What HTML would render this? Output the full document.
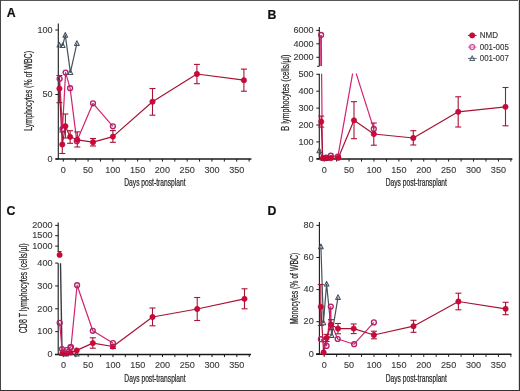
<!DOCTYPE html>
<html><head><meta charset="utf-8"><style>
html,body{margin:0;padding:0;background:#fff;}
#fig{position:relative;width:520px;height:391px;overflow:hidden;background:#fff;}
#fig svg{position:absolute;left:0;top:0;filter:blur(0.3px);}
text{font-family:"Liberation Sans",sans-serif;}
</style></head><body>
<div id="fig">
<svg width="520" height="391" viewBox="0 0 520 391">
<rect x="0" y="0" width="520" height="391" fill="#fff"/>
<text x="6.7" y="17.1" font-size="12.3" font-weight="bold" fill="#111" stroke="#111" stroke-width="0.2">A</text>
<line x1="58.30" y1="23.50" x2="58.30" y2="159.00" stroke="#1a1a1a" stroke-width="1.1"/>
<line x1="55.50" y1="159.00" x2="251.40" y2="159.00" stroke="#1a1a1a" stroke-width="1.5"/>
<line x1="63.30" y1="159.00" x2="63.30" y2="161.60" stroke="#1a1a1a" stroke-width="1.0"/>
<text x="63.30" y="172.80" font-size="8.5" text-anchor="middle" fill="#3a3a3a" stroke="#3a3a3a" stroke-width="0.12" textLength="5.05" lengthAdjust="spacingAndGlyphs">0</text>
<line x1="75.69" y1="159.00" x2="75.69" y2="161.60" stroke="#1a1a1a" stroke-width="1.0"/>
<line x1="88.07" y1="159.00" x2="88.07" y2="161.60" stroke="#1a1a1a" stroke-width="1.0"/>
<text x="88.07" y="172.80" font-size="8.5" text-anchor="middle" fill="#3a3a3a" stroke="#3a3a3a" stroke-width="0.12" textLength="10.10" lengthAdjust="spacingAndGlyphs">50</text>
<line x1="100.46" y1="159.00" x2="100.46" y2="161.60" stroke="#1a1a1a" stroke-width="1.0"/>
<line x1="112.85" y1="159.00" x2="112.85" y2="161.60" stroke="#1a1a1a" stroke-width="1.0"/>
<text x="112.85" y="172.80" font-size="8.5" text-anchor="middle" fill="#3a3a3a" stroke="#3a3a3a" stroke-width="0.12" textLength="15.15" lengthAdjust="spacingAndGlyphs">100</text>
<line x1="125.24" y1="159.00" x2="125.24" y2="161.60" stroke="#1a1a1a" stroke-width="1.0"/>
<line x1="137.62" y1="159.00" x2="137.62" y2="161.60" stroke="#1a1a1a" stroke-width="1.0"/>
<text x="137.62" y="172.80" font-size="8.5" text-anchor="middle" fill="#3a3a3a" stroke="#3a3a3a" stroke-width="0.12" textLength="15.15" lengthAdjust="spacingAndGlyphs">150</text>
<line x1="150.01" y1="159.00" x2="150.01" y2="161.60" stroke="#1a1a1a" stroke-width="1.0"/>
<line x1="162.40" y1="159.00" x2="162.40" y2="161.60" stroke="#1a1a1a" stroke-width="1.0"/>
<text x="162.40" y="172.80" font-size="8.5" text-anchor="middle" fill="#3a3a3a" stroke="#3a3a3a" stroke-width="0.12" textLength="15.15" lengthAdjust="spacingAndGlyphs">200</text>
<line x1="174.79" y1="159.00" x2="174.79" y2="161.60" stroke="#1a1a1a" stroke-width="1.0"/>
<line x1="187.18" y1="159.00" x2="187.18" y2="161.60" stroke="#1a1a1a" stroke-width="1.0"/>
<text x="187.18" y="172.80" font-size="8.5" text-anchor="middle" fill="#3a3a3a" stroke="#3a3a3a" stroke-width="0.12" textLength="15.15" lengthAdjust="spacingAndGlyphs">250</text>
<line x1="199.56" y1="159.00" x2="199.56" y2="161.60" stroke="#1a1a1a" stroke-width="1.0"/>
<line x1="211.95" y1="159.00" x2="211.95" y2="161.60" stroke="#1a1a1a" stroke-width="1.0"/>
<text x="211.95" y="172.80" font-size="8.5" text-anchor="middle" fill="#3a3a3a" stroke="#3a3a3a" stroke-width="0.12" textLength="15.15" lengthAdjust="spacingAndGlyphs">300</text>
<line x1="224.34" y1="159.00" x2="224.34" y2="161.60" stroke="#1a1a1a" stroke-width="1.0"/>
<line x1="236.73" y1="159.00" x2="236.73" y2="161.60" stroke="#1a1a1a" stroke-width="1.0"/>
<text x="236.73" y="172.80" font-size="8.5" text-anchor="middle" fill="#3a3a3a" stroke="#3a3a3a" stroke-width="0.12" textLength="15.15" lengthAdjust="spacingAndGlyphs">350</text>
<line x1="249.11" y1="159.00" x2="249.11" y2="161.60" stroke="#1a1a1a" stroke-width="1.0"/>
<line x1="55.30" y1="159.00" x2="58.30" y2="159.00" stroke="#1a1a1a" stroke-width="1.0"/>
<text x="52.60" y="161.75" font-size="8.5" text-anchor="end" fill="#3a3a3a" stroke="#3a3a3a" stroke-width="0.12" textLength="5.05" lengthAdjust="spacingAndGlyphs">0</text>
<line x1="55.30" y1="94.50" x2="58.30" y2="94.50" stroke="#1a1a1a" stroke-width="1.0"/>
<text x="52.60" y="97.25" font-size="8.5" text-anchor="end" fill="#3a3a3a" stroke="#3a3a3a" stroke-width="0.12" textLength="10.10" lengthAdjust="spacingAndGlyphs">50</text>
<line x1="55.30" y1="30.00" x2="58.30" y2="30.00" stroke="#1a1a1a" stroke-width="1.0"/>
<text x="52.60" y="32.75" font-size="8.5" text-anchor="end" fill="#3a3a3a" stroke="#3a3a3a" stroke-width="0.12" textLength="15.15" lengthAdjust="spacingAndGlyphs">100</text>
<text transform="translate(32.40,90.90) rotate(-90)" x="0" y="0" font-size="10.0" text-anchor="middle" fill="#262626" stroke="#262626" stroke-width="0.22" textLength="79.8" lengthAdjust="spacingAndGlyphs">Lymphocytes (% of WBC)</text>
<text x="154.90" y="185.90" font-size="10.0" text-anchor="middle" fill="#262626" stroke="#262626" stroke-width="0.22" textLength="61.3" lengthAdjust="spacingAndGlyphs">Days post-transplant</text>
<polyline points="59.40,45.00 62.70,45.50 65.30,35.20 70.40,72.40 76.90,43.40" fill="none" stroke="#46515c" stroke-width="1.2" stroke-linejoin="round"/>
<polyline points="59.60,78.80 62.50,128.90 65.60,72.60 70.10,88.20 76.80,141.20 93.00,103.30 112.90,126.30" fill="none" stroke="#d2226e" stroke-width="1.2" stroke-linejoin="round"/>
<polyline points="59.40,88.60 62.30,144.50 65.40,126.20 70.10,136.80 77.30,139.80 93.00,142.20 112.90,136.60 152.50,101.70 196.90,74.00 243.90,80.20" fill="none" stroke="#a61436" stroke-width="1.2" stroke-linejoin="round"/>
<line x1="59.40" y1="75.50" x2="59.40" y2="102.70" stroke="#a61436" stroke-width="1.1"/>
<line x1="56.40" y1="75.50" x2="62.40" y2="75.50" stroke="#a61436" stroke-width="1.1"/>
<line x1="56.40" y1="102.70" x2="62.40" y2="102.70" stroke="#a61436" stroke-width="1.1"/>
<line x1="62.30" y1="132.00" x2="62.30" y2="153.50" stroke="#a61436" stroke-width="1.1"/>
<line x1="59.30" y1="132.00" x2="65.30" y2="132.00" stroke="#a61436" stroke-width="1.1"/>
<line x1="59.30" y1="153.50" x2="65.30" y2="153.50" stroke="#a61436" stroke-width="1.1"/>
<line x1="65.40" y1="114.00" x2="65.40" y2="138.00" stroke="#a61436" stroke-width="1.1"/>
<line x1="62.40" y1="114.00" x2="68.40" y2="114.00" stroke="#a61436" stroke-width="1.1"/>
<line x1="62.40" y1="138.00" x2="68.40" y2="138.00" stroke="#a61436" stroke-width="1.1"/>
<line x1="70.10" y1="130.70" x2="70.10" y2="143.30" stroke="#a61436" stroke-width="1.1"/>
<line x1="67.10" y1="130.70" x2="73.10" y2="130.70" stroke="#a61436" stroke-width="1.1"/>
<line x1="67.10" y1="143.30" x2="73.10" y2="143.30" stroke="#a61436" stroke-width="1.1"/>
<line x1="77.30" y1="131.90" x2="77.30" y2="147.00" stroke="#a61436" stroke-width="1.1"/>
<line x1="74.30" y1="131.90" x2="80.30" y2="131.90" stroke="#a61436" stroke-width="1.1"/>
<line x1="74.30" y1="147.00" x2="80.30" y2="147.00" stroke="#a61436" stroke-width="1.1"/>
<line x1="93.00" y1="138.50" x2="93.00" y2="146.00" stroke="#a61436" stroke-width="1.1"/>
<line x1="90.00" y1="138.50" x2="96.00" y2="138.50" stroke="#a61436" stroke-width="1.1"/>
<line x1="90.00" y1="146.00" x2="96.00" y2="146.00" stroke="#a61436" stroke-width="1.1"/>
<line x1="112.90" y1="130.60" x2="112.90" y2="142.30" stroke="#a61436" stroke-width="1.1"/>
<line x1="109.90" y1="130.60" x2="115.90" y2="130.60" stroke="#a61436" stroke-width="1.1"/>
<line x1="109.90" y1="142.30" x2="115.90" y2="142.30" stroke="#a61436" stroke-width="1.1"/>
<line x1="152.50" y1="88.50" x2="152.50" y2="115.20" stroke="#a61436" stroke-width="1.1"/>
<line x1="149.50" y1="88.50" x2="155.50" y2="88.50" stroke="#a61436" stroke-width="1.1"/>
<line x1="149.50" y1="115.20" x2="155.50" y2="115.20" stroke="#a61436" stroke-width="1.1"/>
<line x1="196.90" y1="64.40" x2="196.90" y2="83.70" stroke="#a61436" stroke-width="1.1"/>
<line x1="193.90" y1="64.40" x2="199.90" y2="64.40" stroke="#a61436" stroke-width="1.1"/>
<line x1="193.90" y1="83.70" x2="199.90" y2="83.70" stroke="#a61436" stroke-width="1.1"/>
<line x1="243.90" y1="69.10" x2="243.90" y2="91.20" stroke="#a61436" stroke-width="1.1"/>
<line x1="240.90" y1="69.10" x2="246.90" y2="69.10" stroke="#a61436" stroke-width="1.1"/>
<line x1="240.90" y1="91.20" x2="246.90" y2="91.20" stroke="#a61436" stroke-width="1.1"/>
<circle cx="59.60" cy="78.80" r="2.45" fill="none" stroke="#b0226a" stroke-width="1.35"/>
<circle cx="62.50" cy="128.90" r="2.45" fill="none" stroke="#b0226a" stroke-width="1.35"/>
<circle cx="65.60" cy="72.60" r="2.45" fill="none" stroke="#b0226a" stroke-width="1.35"/>
<circle cx="70.10" cy="88.20" r="2.45" fill="none" stroke="#b0226a" stroke-width="1.35"/>
<circle cx="76.80" cy="141.20" r="2.45" fill="none" stroke="#b0226a" stroke-width="1.35"/>
<circle cx="93.00" cy="103.30" r="2.45" fill="none" stroke="#b0226a" stroke-width="1.35"/>
<circle cx="112.90" cy="126.30" r="2.45" fill="none" stroke="#b0226a" stroke-width="1.35"/>
<polygon points="59.40,42.40 57.05,47.08 61.75,47.08" fill="none" stroke="#46515c" stroke-width="1.05" stroke-linejoin="round"/>
<polygon points="62.70,42.90 60.35,47.58 65.05,47.58" fill="none" stroke="#46515c" stroke-width="1.05" stroke-linejoin="round"/>
<polygon points="65.30,32.60 62.95,37.28 67.65,37.28" fill="none" stroke="#46515c" stroke-width="1.05" stroke-linejoin="round"/>
<polygon points="70.40,69.80 68.05,74.48 72.75,74.48" fill="none" stroke="#46515c" stroke-width="1.05" stroke-linejoin="round"/>
<polygon points="76.90,40.80 74.55,45.48 79.25,45.48" fill="none" stroke="#46515c" stroke-width="1.05" stroke-linejoin="round"/>
<circle cx="59.40" cy="88.60" r="2.65" fill="#cf0736" stroke="#b00c38" stroke-width="0.6"/>
<circle cx="62.30" cy="144.50" r="2.65" fill="#cf0736" stroke="#b00c38" stroke-width="0.6"/>
<circle cx="65.40" cy="126.20" r="2.65" fill="#cf0736" stroke="#b00c38" stroke-width="0.6"/>
<circle cx="70.10" cy="136.80" r="2.65" fill="#cf0736" stroke="#b00c38" stroke-width="0.6"/>
<circle cx="77.30" cy="139.80" r="2.65" fill="#cf0736" stroke="#b00c38" stroke-width="0.6"/>
<circle cx="93.00" cy="142.20" r="2.65" fill="#cf0736" stroke="#b00c38" stroke-width="0.6"/>
<circle cx="112.90" cy="136.60" r="2.65" fill="#cf0736" stroke="#b00c38" stroke-width="0.6"/>
<circle cx="152.50" cy="101.70" r="2.65" fill="#cf0736" stroke="#b00c38" stroke-width="0.6"/>
<circle cx="196.90" cy="74.00" r="2.65" fill="#cf0736" stroke="#b00c38" stroke-width="0.6"/>
<circle cx="243.90" cy="80.20" r="2.65" fill="#cf0736" stroke="#b00c38" stroke-width="0.6"/>
<text x="267.5" y="19.3" font-size="12.3" font-weight="bold" fill="#111" stroke="#111" stroke-width="0.2">B</text>
<line x1="319.30" y1="26.90" x2="319.30" y2="66.30" stroke="#1a1a1a" stroke-width="1.1"/>
<line x1="317.10" y1="66.30" x2="319.30" y2="66.30" stroke="#1a1a1a" stroke-width="1.0"/>
<line x1="319.30" y1="73.70" x2="319.30" y2="159.00" stroke="#1a1a1a" stroke-width="1.1"/>
<line x1="316.50" y1="159.00" x2="512.40" y2="159.00" stroke="#1a1a1a" stroke-width="1.5"/>
<line x1="324.20" y1="159.00" x2="324.20" y2="161.60" stroke="#1a1a1a" stroke-width="1.0"/>
<text x="324.20" y="172.80" font-size="8.5" text-anchor="middle" fill="#3a3a3a" stroke="#3a3a3a" stroke-width="0.12" textLength="5.05" lengthAdjust="spacingAndGlyphs">0</text>
<line x1="336.64" y1="159.00" x2="336.64" y2="161.60" stroke="#1a1a1a" stroke-width="1.0"/>
<line x1="349.09" y1="159.00" x2="349.09" y2="161.60" stroke="#1a1a1a" stroke-width="1.0"/>
<text x="349.09" y="172.80" font-size="8.5" text-anchor="middle" fill="#3a3a3a" stroke="#3a3a3a" stroke-width="0.12" textLength="10.10" lengthAdjust="spacingAndGlyphs">50</text>
<line x1="361.53" y1="159.00" x2="361.53" y2="161.60" stroke="#1a1a1a" stroke-width="1.0"/>
<line x1="373.98" y1="159.00" x2="373.98" y2="161.60" stroke="#1a1a1a" stroke-width="1.0"/>
<text x="373.98" y="172.80" font-size="8.5" text-anchor="middle" fill="#3a3a3a" stroke="#3a3a3a" stroke-width="0.12" textLength="15.15" lengthAdjust="spacingAndGlyphs">100</text>
<line x1="386.43" y1="159.00" x2="386.43" y2="161.60" stroke="#1a1a1a" stroke-width="1.0"/>
<line x1="398.87" y1="159.00" x2="398.87" y2="161.60" stroke="#1a1a1a" stroke-width="1.0"/>
<text x="398.87" y="172.80" font-size="8.5" text-anchor="middle" fill="#3a3a3a" stroke="#3a3a3a" stroke-width="0.12" textLength="15.15" lengthAdjust="spacingAndGlyphs">150</text>
<line x1="411.31" y1="159.00" x2="411.31" y2="161.60" stroke="#1a1a1a" stroke-width="1.0"/>
<line x1="423.76" y1="159.00" x2="423.76" y2="161.60" stroke="#1a1a1a" stroke-width="1.0"/>
<text x="423.76" y="172.80" font-size="8.5" text-anchor="middle" fill="#3a3a3a" stroke="#3a3a3a" stroke-width="0.12" textLength="15.15" lengthAdjust="spacingAndGlyphs">200</text>
<line x1="436.20" y1="159.00" x2="436.20" y2="161.60" stroke="#1a1a1a" stroke-width="1.0"/>
<line x1="448.65" y1="159.00" x2="448.65" y2="161.60" stroke="#1a1a1a" stroke-width="1.0"/>
<text x="448.65" y="172.80" font-size="8.5" text-anchor="middle" fill="#3a3a3a" stroke="#3a3a3a" stroke-width="0.12" textLength="15.15" lengthAdjust="spacingAndGlyphs">250</text>
<line x1="461.10" y1="159.00" x2="461.10" y2="161.60" stroke="#1a1a1a" stroke-width="1.0"/>
<line x1="473.54" y1="159.00" x2="473.54" y2="161.60" stroke="#1a1a1a" stroke-width="1.0"/>
<text x="473.54" y="172.80" font-size="8.5" text-anchor="middle" fill="#3a3a3a" stroke="#3a3a3a" stroke-width="0.12" textLength="15.15" lengthAdjust="spacingAndGlyphs">300</text>
<line x1="485.99" y1="159.00" x2="485.99" y2="161.60" stroke="#1a1a1a" stroke-width="1.0"/>
<line x1="498.43" y1="159.00" x2="498.43" y2="161.60" stroke="#1a1a1a" stroke-width="1.0"/>
<text x="498.43" y="172.80" font-size="8.5" text-anchor="middle" fill="#3a3a3a" stroke="#3a3a3a" stroke-width="0.12" textLength="15.15" lengthAdjust="spacingAndGlyphs">350</text>
<line x1="510.88" y1="159.00" x2="510.88" y2="161.60" stroke="#1a1a1a" stroke-width="1.0"/>
<line x1="316.30" y1="30.40" x2="319.30" y2="30.40" stroke="#1a1a1a" stroke-width="1.0"/>
<text x="313.60" y="33.15" font-size="8.5" text-anchor="end" fill="#3a3a3a" stroke="#3a3a3a" stroke-width="0.12" textLength="20.20" lengthAdjust="spacingAndGlyphs">6000</text>
<line x1="316.30" y1="43.80" x2="319.30" y2="43.80" stroke="#1a1a1a" stroke-width="1.0"/>
<text x="313.60" y="46.55" font-size="8.5" text-anchor="end" fill="#3a3a3a" stroke="#3a3a3a" stroke-width="0.12" textLength="20.20" lengthAdjust="spacingAndGlyphs">4000</text>
<line x1="316.30" y1="57.30" x2="319.30" y2="57.30" stroke="#1a1a1a" stroke-width="1.0"/>
<text x="313.60" y="60.05" font-size="8.5" text-anchor="end" fill="#3a3a3a" stroke="#3a3a3a" stroke-width="0.12" textLength="20.20" lengthAdjust="spacingAndGlyphs">2000</text>
<line x1="316.30" y1="158.80" x2="319.30" y2="158.80" stroke="#1a1a1a" stroke-width="1.0"/>
<text x="313.60" y="161.55" font-size="8.5" text-anchor="end" fill="#3a3a3a" stroke="#3a3a3a" stroke-width="0.12" textLength="5.05" lengthAdjust="spacingAndGlyphs">0</text>
<line x1="316.30" y1="141.90" x2="319.30" y2="141.90" stroke="#1a1a1a" stroke-width="1.0"/>
<text x="313.60" y="144.65" font-size="8.5" text-anchor="end" fill="#3a3a3a" stroke="#3a3a3a" stroke-width="0.12" textLength="15.15" lengthAdjust="spacingAndGlyphs">100</text>
<line x1="316.30" y1="125.00" x2="319.30" y2="125.00" stroke="#1a1a1a" stroke-width="1.0"/>
<text x="313.60" y="127.75" font-size="8.5" text-anchor="end" fill="#3a3a3a" stroke="#3a3a3a" stroke-width="0.12" textLength="15.15" lengthAdjust="spacingAndGlyphs">200</text>
<line x1="316.30" y1="108.10" x2="319.30" y2="108.10" stroke="#1a1a1a" stroke-width="1.0"/>
<text x="313.60" y="110.85" font-size="8.5" text-anchor="end" fill="#3a3a3a" stroke="#3a3a3a" stroke-width="0.12" textLength="15.15" lengthAdjust="spacingAndGlyphs">300</text>
<line x1="316.30" y1="91.20" x2="319.30" y2="91.20" stroke="#1a1a1a" stroke-width="1.0"/>
<text x="313.60" y="93.95" font-size="8.5" text-anchor="end" fill="#3a3a3a" stroke="#3a3a3a" stroke-width="0.12" textLength="15.15" lengthAdjust="spacingAndGlyphs">400</text>
<line x1="316.30" y1="74.30" x2="319.30" y2="74.30" stroke="#1a1a1a" stroke-width="1.0"/>
<text x="313.60" y="77.05" font-size="8.5" text-anchor="end" fill="#3a3a3a" stroke="#3a3a3a" stroke-width="0.12" textLength="15.15" lengthAdjust="spacingAndGlyphs">500</text>
<text transform="translate(288.60,92.65) rotate(-90)" x="0" y="0" font-size="10.0" text-anchor="middle" fill="#262626" stroke="#262626" stroke-width="0.22" textLength="76.0" lengthAdjust="spacingAndGlyphs">B lymphocytes (cells/µl)</text>
<text x="416.30" y="185.90" font-size="10.0" text-anchor="middle" fill="#262626" stroke="#262626" stroke-width="0.22" textLength="61.3" lengthAdjust="spacingAndGlyphs">Days post-transplant</text>
<polyline points="319.30,150.60 322.50,158.00 326.00,158.30" fill="none" stroke="#46515c" stroke-width="1.2" stroke-linejoin="round"/>
<clipPath id="cB"><rect x="300" y="0" width="220" height="73.6"/><rect x="300" y="73.6" width="220" height="100"/></clipPath>
<polyline points="321.00,34.90 321.20,66.00" fill="none" stroke="#d2226e" stroke-width="1.8" stroke-linejoin="round"/>
<polyline points="321.60,73.70 322.40,158.00 326.00,158.00 330.80,155.70 337.90,156.60 352.60,73.60" fill="none" stroke="#d2226e" stroke-width="1.2" stroke-linejoin="round"/>
<polyline points="356.20,73.60 373.80,128.90" fill="none" stroke="#d2226e" stroke-width="1.2" stroke-linejoin="round"/>
<polyline points="321.20,121.70 322.80,158.20 326.50,158.20 330.80,158.20 338.40,157.80 354.00,120.30 373.80,134.00 413.30,138.00 458.20,111.80 505.50,106.80" fill="none" stroke="#a61436" stroke-width="1.2" stroke-linejoin="round"/>
<line x1="321.20" y1="116.10" x2="321.20" y2="127.10" stroke="#a61436" stroke-width="1.1"/>
<line x1="318.20" y1="116.10" x2="324.20" y2="116.10" stroke="#a61436" stroke-width="1.1"/>
<line x1="318.20" y1="127.10" x2="324.20" y2="127.10" stroke="#a61436" stroke-width="1.1"/>
<line x1="354.00" y1="101.70" x2="354.00" y2="138.70" stroke="#a61436" stroke-width="1.1"/>
<line x1="351.00" y1="101.70" x2="357.00" y2="101.70" stroke="#a61436" stroke-width="1.1"/>
<line x1="351.00" y1="138.70" x2="357.00" y2="138.70" stroke="#a61436" stroke-width="1.1"/>
<line x1="373.80" y1="123.00" x2="373.80" y2="145.20" stroke="#a61436" stroke-width="1.1"/>
<line x1="370.80" y1="123.00" x2="376.80" y2="123.00" stroke="#a61436" stroke-width="1.1"/>
<line x1="370.80" y1="145.20" x2="376.80" y2="145.20" stroke="#a61436" stroke-width="1.1"/>
<line x1="413.30" y1="130.70" x2="413.30" y2="145.00" stroke="#a61436" stroke-width="1.1"/>
<line x1="410.30" y1="130.70" x2="416.30" y2="130.70" stroke="#a61436" stroke-width="1.1"/>
<line x1="410.30" y1="145.00" x2="416.30" y2="145.00" stroke="#a61436" stroke-width="1.1"/>
<line x1="458.20" y1="96.80" x2="458.20" y2="127.00" stroke="#a61436" stroke-width="1.1"/>
<line x1="455.20" y1="96.80" x2="461.20" y2="96.80" stroke="#a61436" stroke-width="1.1"/>
<line x1="455.20" y1="127.00" x2="461.20" y2="127.00" stroke="#a61436" stroke-width="1.1"/>
<line x1="505.50" y1="87.50" x2="505.50" y2="125.80" stroke="#a61436" stroke-width="1.1"/>
<line x1="502.50" y1="87.50" x2="508.50" y2="87.50" stroke="#a61436" stroke-width="1.1"/>
<line x1="502.50" y1="125.80" x2="508.50" y2="125.80" stroke="#a61436" stroke-width="1.1"/>
<circle cx="321.10" cy="34.90" r="2.45" fill="none" stroke="#b0226a" stroke-width="1.35"/>
<circle cx="326.00" cy="157.50" r="2.45" fill="none" stroke="#b0226a" stroke-width="1.35"/>
<circle cx="330.80" cy="155.70" r="2.45" fill="none" stroke="#b0226a" stroke-width="1.35"/>
<circle cx="337.90" cy="156.60" r="2.45" fill="none" stroke="#b0226a" stroke-width="1.35"/>
<circle cx="373.80" cy="128.90" r="2.45" fill="none" stroke="#b0226a" stroke-width="1.35"/>
<polygon points="319.30,148.00 316.95,152.68 321.65,152.68" fill="none" stroke="#46515c" stroke-width="1.05" stroke-linejoin="round"/>
<polygon points="322.50,155.40 320.15,160.08 324.85,160.08" fill="none" stroke="#46515c" stroke-width="1.05" stroke-linejoin="round"/>
<polygon points="326.00,155.70 323.65,160.38 328.35,160.38" fill="none" stroke="#46515c" stroke-width="1.05" stroke-linejoin="round"/>
<circle cx="321.20" cy="121.70" r="2.65" fill="#cf0736" stroke="#b00c38" stroke-width="0.6"/>
<circle cx="322.80" cy="158.20" r="2.65" fill="#cf0736" stroke="#b00c38" stroke-width="0.6"/>
<circle cx="326.50" cy="158.20" r="2.65" fill="#cf0736" stroke="#b00c38" stroke-width="0.6"/>
<circle cx="330.80" cy="158.20" r="2.65" fill="#cf0736" stroke="#b00c38" stroke-width="0.6"/>
<circle cx="338.40" cy="157.80" r="2.65" fill="#cf0736" stroke="#b00c38" stroke-width="0.6"/>
<circle cx="354.00" cy="120.30" r="2.65" fill="#cf0736" stroke="#b00c38" stroke-width="0.6"/>
<circle cx="373.80" cy="134.00" r="2.65" fill="#cf0736" stroke="#b00c38" stroke-width="0.6"/>
<circle cx="413.30" cy="138.00" r="2.65" fill="#cf0736" stroke="#b00c38" stroke-width="0.6"/>
<circle cx="458.20" cy="111.80" r="2.65" fill="#cf0736" stroke="#b00c38" stroke-width="0.6"/>
<circle cx="505.50" cy="106.80" r="2.65" fill="#cf0736" stroke="#b00c38" stroke-width="0.6"/>
<line x1="467.90" y1="35.40" x2="476.60" y2="35.40" stroke="#a61436" stroke-width="1.0"/>
<circle cx="472.20" cy="35.40" r="2.65" fill="#cf0736" stroke="#b00c38" stroke-width="0.6"/>
<line x1="467.90" y1="47.10" x2="476.60" y2="47.10" stroke="#e070a8" stroke-width="1.0"/>
<circle cx="472.20" cy="47.10" r="2.45" fill="none" stroke="#d2509a" stroke-width="1.35"/>
<line x1="467.90" y1="58.40" x2="476.60" y2="58.40" stroke="#5a6670" stroke-width="1.0"/>
<polygon points="472.20,55.80 469.85,60.48 474.55,60.48" fill="none" stroke="#5a6670" stroke-width="1.05" stroke-linejoin="round"/>
<text x="479.80" y="38.40" font-size="8.3" text-anchor="start" fill="#3a3a3a" textLength="18.3" lengthAdjust="spacingAndGlyphs" stroke="#3a3a3a" stroke-width="0.15">NMD</text>
<text x="479.80" y="50.10" font-size="8.3" text-anchor="start" fill="#3a3a3a" textLength="29.0" lengthAdjust="spacingAndGlyphs" stroke="#3a3a3a" stroke-width="0.15">001-005</text>
<text x="479.80" y="61.40" font-size="8.3" text-anchor="start" fill="#3a3a3a" textLength="29.0" lengthAdjust="spacingAndGlyphs" stroke="#3a3a3a" stroke-width="0.15">001-007</text>
<text x="6.6" y="214.8" font-size="12.3" font-weight="bold" fill="#111" stroke="#111" stroke-width="0.2">C</text>
<line x1="58.20" y1="222.40" x2="58.20" y2="252.00" stroke="#1a1a1a" stroke-width="1.1"/>
<line x1="58.20" y1="263.20" x2="58.20" y2="354.50" stroke="#1a1a1a" stroke-width="1.1"/>
<line x1="55.00" y1="354.50" x2="251.00" y2="354.50" stroke="#1a1a1a" stroke-width="1.5"/>
<line x1="63.40" y1="354.50" x2="63.40" y2="357.10" stroke="#1a1a1a" stroke-width="1.0"/>
<text x="63.40" y="368.30" font-size="8.5" text-anchor="middle" fill="#3a3a3a" stroke="#3a3a3a" stroke-width="0.12" textLength="5.05" lengthAdjust="spacingAndGlyphs">0</text>
<line x1="75.79" y1="354.50" x2="75.79" y2="357.10" stroke="#1a1a1a" stroke-width="1.0"/>
<line x1="88.17" y1="354.50" x2="88.17" y2="357.10" stroke="#1a1a1a" stroke-width="1.0"/>
<text x="88.17" y="368.30" font-size="8.5" text-anchor="middle" fill="#3a3a3a" stroke="#3a3a3a" stroke-width="0.12" textLength="10.10" lengthAdjust="spacingAndGlyphs">50</text>
<line x1="100.56" y1="354.50" x2="100.56" y2="357.10" stroke="#1a1a1a" stroke-width="1.0"/>
<line x1="112.95" y1="354.50" x2="112.95" y2="357.10" stroke="#1a1a1a" stroke-width="1.0"/>
<text x="112.95" y="368.30" font-size="8.5" text-anchor="middle" fill="#3a3a3a" stroke="#3a3a3a" stroke-width="0.12" textLength="15.15" lengthAdjust="spacingAndGlyphs">100</text>
<line x1="125.34" y1="354.50" x2="125.34" y2="357.10" stroke="#1a1a1a" stroke-width="1.0"/>
<line x1="137.72" y1="354.50" x2="137.72" y2="357.10" stroke="#1a1a1a" stroke-width="1.0"/>
<text x="137.72" y="368.30" font-size="8.5" text-anchor="middle" fill="#3a3a3a" stroke="#3a3a3a" stroke-width="0.12" textLength="15.15" lengthAdjust="spacingAndGlyphs">150</text>
<line x1="150.11" y1="354.50" x2="150.11" y2="357.10" stroke="#1a1a1a" stroke-width="1.0"/>
<line x1="162.50" y1="354.50" x2="162.50" y2="357.10" stroke="#1a1a1a" stroke-width="1.0"/>
<text x="162.50" y="368.30" font-size="8.5" text-anchor="middle" fill="#3a3a3a" stroke="#3a3a3a" stroke-width="0.12" textLength="15.15" lengthAdjust="spacingAndGlyphs">200</text>
<line x1="174.89" y1="354.50" x2="174.89" y2="357.10" stroke="#1a1a1a" stroke-width="1.0"/>
<line x1="187.28" y1="354.50" x2="187.28" y2="357.10" stroke="#1a1a1a" stroke-width="1.0"/>
<text x="187.28" y="368.30" font-size="8.5" text-anchor="middle" fill="#3a3a3a" stroke="#3a3a3a" stroke-width="0.12" textLength="15.15" lengthAdjust="spacingAndGlyphs">250</text>
<line x1="199.66" y1="354.50" x2="199.66" y2="357.10" stroke="#1a1a1a" stroke-width="1.0"/>
<line x1="212.05" y1="354.50" x2="212.05" y2="357.10" stroke="#1a1a1a" stroke-width="1.0"/>
<text x="212.05" y="368.30" font-size="8.5" text-anchor="middle" fill="#3a3a3a" stroke="#3a3a3a" stroke-width="0.12" textLength="15.15" lengthAdjust="spacingAndGlyphs">300</text>
<line x1="224.44" y1="354.50" x2="224.44" y2="357.10" stroke="#1a1a1a" stroke-width="1.0"/>
<line x1="236.83" y1="354.50" x2="236.83" y2="357.10" stroke="#1a1a1a" stroke-width="1.0"/>
<text x="236.83" y="368.30" font-size="8.5" text-anchor="middle" fill="#3a3a3a" stroke="#3a3a3a" stroke-width="0.12" textLength="15.15" lengthAdjust="spacingAndGlyphs">350</text>
<line x1="249.21" y1="354.50" x2="249.21" y2="357.10" stroke="#1a1a1a" stroke-width="1.0"/>
<line x1="55.20" y1="225.40" x2="58.20" y2="225.40" stroke="#1a1a1a" stroke-width="1.0"/>
<text x="52.50" y="228.15" font-size="8.5" text-anchor="end" fill="#3a3a3a" stroke="#3a3a3a" stroke-width="0.12" textLength="20.20" lengthAdjust="spacingAndGlyphs">2000</text>
<line x1="55.20" y1="235.70" x2="58.20" y2="235.70" stroke="#1a1a1a" stroke-width="1.0"/>
<text x="52.50" y="238.45" font-size="8.5" text-anchor="end" fill="#3a3a3a" stroke="#3a3a3a" stroke-width="0.12" textLength="20.20" lengthAdjust="spacingAndGlyphs">1500</text>
<line x1="55.20" y1="246.10" x2="58.20" y2="246.10" stroke="#1a1a1a" stroke-width="1.0"/>
<text x="52.50" y="248.85" font-size="8.5" text-anchor="end" fill="#3a3a3a" stroke="#3a3a3a" stroke-width="0.12" textLength="20.20" lengthAdjust="spacingAndGlyphs">1000</text>
<line x1="55.20" y1="354.50" x2="58.20" y2="354.50" stroke="#1a1a1a" stroke-width="1.0"/>
<text x="52.50" y="357.25" font-size="8.5" text-anchor="end" fill="#3a3a3a" stroke="#3a3a3a" stroke-width="0.12" textLength="5.05" lengthAdjust="spacingAndGlyphs">0</text>
<line x1="55.20" y1="331.65" x2="58.20" y2="331.65" stroke="#1a1a1a" stroke-width="1.0"/>
<text x="52.50" y="334.40" font-size="8.5" text-anchor="end" fill="#3a3a3a" stroke="#3a3a3a" stroke-width="0.12" textLength="15.15" lengthAdjust="spacingAndGlyphs">100</text>
<line x1="55.20" y1="308.80" x2="58.20" y2="308.80" stroke="#1a1a1a" stroke-width="1.0"/>
<text x="52.50" y="311.55" font-size="8.5" text-anchor="end" fill="#3a3a3a" stroke="#3a3a3a" stroke-width="0.12" textLength="15.15" lengthAdjust="spacingAndGlyphs">200</text>
<line x1="55.20" y1="285.95" x2="58.20" y2="285.95" stroke="#1a1a1a" stroke-width="1.0"/>
<text x="52.50" y="288.70" font-size="8.5" text-anchor="end" fill="#3a3a3a" stroke="#3a3a3a" stroke-width="0.12" textLength="15.15" lengthAdjust="spacingAndGlyphs">300</text>
<line x1="55.20" y1="263.10" x2="58.20" y2="263.10" stroke="#1a1a1a" stroke-width="1.0"/>
<text x="52.50" y="265.85" font-size="8.5" text-anchor="end" fill="#3a3a3a" stroke="#3a3a3a" stroke-width="0.12" textLength="15.15" lengthAdjust="spacingAndGlyphs">400</text>
<text transform="translate(27.00,288.40) rotate(-90)" x="0" y="0" font-size="10.0" text-anchor="middle" fill="#262626" stroke="#262626" stroke-width="0.22" textLength="89.8" lengthAdjust="spacingAndGlyphs">CD8 T lymphocytes (cells/µl)</text>
<text x="155.00" y="382.00" font-size="10.0" text-anchor="middle" fill="#262626" stroke="#262626" stroke-width="0.22" textLength="61.3" lengthAdjust="spacingAndGlyphs">Days post-transplant</text>
<line x1="60.50" y1="263.20" x2="62.00" y2="352.50" stroke="#363c42" stroke-width="1.4"/>
<polyline points="61.80,353.30 66.00,353.80 76.70,354.00" fill="none" stroke="#46515c" stroke-width="1.2" stroke-linejoin="round"/>
<polyline points="59.70,322.90 62.00,349.00 66.80,350.00 70.40,347.20 71.00,347.00 77.10,285.20 92.80,330.80 112.90,343.00" fill="none" stroke="#d2226e" stroke-width="1.2" stroke-linejoin="round"/>
<polyline points="62.50,353.00 66.50,353.20 70.50,352.60 76.70,350.40 92.80,343.10 112.90,346.50 152.50,317.00 197.20,309.00 244.50,298.80" fill="none" stroke="#a61436" stroke-width="1.2" stroke-linejoin="round"/>
<line x1="92.80" y1="337.80" x2="92.80" y2="348.20" stroke="#a61436" stroke-width="1.1"/>
<line x1="89.80" y1="337.80" x2="95.80" y2="337.80" stroke="#a61436" stroke-width="1.1"/>
<line x1="89.80" y1="348.20" x2="95.80" y2="348.20" stroke="#a61436" stroke-width="1.1"/>
<line x1="112.90" y1="344.50" x2="112.90" y2="348.50" stroke="#a61436" stroke-width="1.1"/>
<line x1="109.90" y1="344.50" x2="115.90" y2="344.50" stroke="#a61436" stroke-width="1.1"/>
<line x1="109.90" y1="348.50" x2="115.90" y2="348.50" stroke="#a61436" stroke-width="1.1"/>
<line x1="152.50" y1="308.00" x2="152.50" y2="325.80" stroke="#a61436" stroke-width="1.1"/>
<line x1="149.50" y1="308.00" x2="155.50" y2="308.00" stroke="#a61436" stroke-width="1.1"/>
<line x1="149.50" y1="325.80" x2="155.50" y2="325.80" stroke="#a61436" stroke-width="1.1"/>
<line x1="197.20" y1="297.50" x2="197.20" y2="320.50" stroke="#a61436" stroke-width="1.1"/>
<line x1="194.20" y1="297.50" x2="200.20" y2="297.50" stroke="#a61436" stroke-width="1.1"/>
<line x1="194.20" y1="320.50" x2="200.20" y2="320.50" stroke="#a61436" stroke-width="1.1"/>
<line x1="244.50" y1="288.80" x2="244.50" y2="308.80" stroke="#a61436" stroke-width="1.1"/>
<line x1="241.50" y1="288.80" x2="247.50" y2="288.80" stroke="#a61436" stroke-width="1.1"/>
<line x1="241.50" y1="308.80" x2="247.50" y2="308.80" stroke="#a61436" stroke-width="1.1"/>
<line x1="59.60" y1="251.50" x2="59.60" y2="254.90" stroke="#a61436" stroke-width="1.1"/>
<line x1="57.60" y1="251.50" x2="61.60" y2="251.50" stroke="#a61436" stroke-width="1.1"/>
<polygon points="61.80,350.70 59.45,355.38 64.15,355.38" fill="none" stroke="#46515c" stroke-width="1.05" stroke-linejoin="round"/>
<polygon points="66.00,351.20 63.65,355.88 68.35,355.88" fill="none" stroke="#46515c" stroke-width="1.05" stroke-linejoin="round"/>
<polygon points="76.70,351.40 74.35,356.08 79.05,356.08" fill="none" stroke="#46515c" stroke-width="1.05" stroke-linejoin="round"/>
<circle cx="59.60" cy="254.90" r="2.65" fill="#cf0736" stroke="#b00c38" stroke-width="0.6"/>
<circle cx="62.50" cy="353.00" r="2.65" fill="#cf0736" stroke="#b00c38" stroke-width="0.6"/>
<circle cx="66.50" cy="353.20" r="2.65" fill="#cf0736" stroke="#b00c38" stroke-width="0.6"/>
<circle cx="70.50" cy="352.60" r="2.65" fill="#cf0736" stroke="#b00c38" stroke-width="0.6"/>
<circle cx="76.70" cy="350.40" r="2.65" fill="#cf0736" stroke="#b00c38" stroke-width="0.6"/>
<circle cx="92.80" cy="343.10" r="2.65" fill="#cf0736" stroke="#b00c38" stroke-width="0.6"/>
<circle cx="112.90" cy="346.50" r="2.65" fill="#cf0736" stroke="#b00c38" stroke-width="0.6"/>
<circle cx="152.50" cy="317.00" r="2.65" fill="#cf0736" stroke="#b00c38" stroke-width="0.6"/>
<circle cx="197.20" cy="309.00" r="2.65" fill="#cf0736" stroke="#b00c38" stroke-width="0.6"/>
<circle cx="244.50" cy="298.80" r="2.65" fill="#cf0736" stroke="#b00c38" stroke-width="0.6"/>
<circle cx="59.70" cy="322.90" r="2.45" fill="none" stroke="#b0226a" stroke-width="1.35"/>
<circle cx="62.00" cy="349.00" r="2.45" fill="none" stroke="#b0226a" stroke-width="1.35"/>
<circle cx="66.80" cy="350.00" r="2.45" fill="none" stroke="#b0226a" stroke-width="1.35"/>
<circle cx="70.40" cy="347.20" r="2.45" fill="none" stroke="#b0226a" stroke-width="1.35"/>
<circle cx="71.00" cy="347.00" r="2.45" fill="none" stroke="#b0226a" stroke-width="1.35"/>
<circle cx="77.10" cy="285.20" r="2.45" fill="none" stroke="#b0226a" stroke-width="1.35"/>
<circle cx="92.80" cy="330.80" r="2.45" fill="none" stroke="#b0226a" stroke-width="1.35"/>
<circle cx="112.90" cy="343.00" r="2.45" fill="none" stroke="#b0226a" stroke-width="1.35"/>
<text x="267.5" y="214.8" font-size="12.3" font-weight="bold" fill="#111" stroke="#111" stroke-width="0.2">D</text>
<line x1="319.40" y1="221.90" x2="319.40" y2="354.20" stroke="#1a1a1a" stroke-width="1.1"/>
<line x1="316.00" y1="354.20" x2="511.40" y2="354.20" stroke="#1a1a1a" stroke-width="1.5"/>
<line x1="324.20" y1="354.20" x2="324.20" y2="356.80" stroke="#1a1a1a" stroke-width="1.0"/>
<text x="324.20" y="368.00" font-size="8.5" text-anchor="middle" fill="#3a3a3a" stroke="#3a3a3a" stroke-width="0.12" textLength="5.05" lengthAdjust="spacingAndGlyphs">0</text>
<line x1="336.64" y1="354.20" x2="336.64" y2="356.80" stroke="#1a1a1a" stroke-width="1.0"/>
<line x1="349.09" y1="354.20" x2="349.09" y2="356.80" stroke="#1a1a1a" stroke-width="1.0"/>
<text x="349.09" y="368.00" font-size="8.5" text-anchor="middle" fill="#3a3a3a" stroke="#3a3a3a" stroke-width="0.12" textLength="10.10" lengthAdjust="spacingAndGlyphs">50</text>
<line x1="361.53" y1="354.20" x2="361.53" y2="356.80" stroke="#1a1a1a" stroke-width="1.0"/>
<line x1="373.98" y1="354.20" x2="373.98" y2="356.80" stroke="#1a1a1a" stroke-width="1.0"/>
<text x="373.98" y="368.00" font-size="8.5" text-anchor="middle" fill="#3a3a3a" stroke="#3a3a3a" stroke-width="0.12" textLength="15.15" lengthAdjust="spacingAndGlyphs">100</text>
<line x1="386.43" y1="354.20" x2="386.43" y2="356.80" stroke="#1a1a1a" stroke-width="1.0"/>
<line x1="398.87" y1="354.20" x2="398.87" y2="356.80" stroke="#1a1a1a" stroke-width="1.0"/>
<text x="398.87" y="368.00" font-size="8.5" text-anchor="middle" fill="#3a3a3a" stroke="#3a3a3a" stroke-width="0.12" textLength="15.15" lengthAdjust="spacingAndGlyphs">150</text>
<line x1="411.31" y1="354.20" x2="411.31" y2="356.80" stroke="#1a1a1a" stroke-width="1.0"/>
<line x1="423.76" y1="354.20" x2="423.76" y2="356.80" stroke="#1a1a1a" stroke-width="1.0"/>
<text x="423.76" y="368.00" font-size="8.5" text-anchor="middle" fill="#3a3a3a" stroke="#3a3a3a" stroke-width="0.12" textLength="15.15" lengthAdjust="spacingAndGlyphs">200</text>
<line x1="436.20" y1="354.20" x2="436.20" y2="356.80" stroke="#1a1a1a" stroke-width="1.0"/>
<line x1="448.65" y1="354.20" x2="448.65" y2="356.80" stroke="#1a1a1a" stroke-width="1.0"/>
<text x="448.65" y="368.00" font-size="8.5" text-anchor="middle" fill="#3a3a3a" stroke="#3a3a3a" stroke-width="0.12" textLength="15.15" lengthAdjust="spacingAndGlyphs">250</text>
<line x1="461.10" y1="354.20" x2="461.10" y2="356.80" stroke="#1a1a1a" stroke-width="1.0"/>
<line x1="473.54" y1="354.20" x2="473.54" y2="356.80" stroke="#1a1a1a" stroke-width="1.0"/>
<text x="473.54" y="368.00" font-size="8.5" text-anchor="middle" fill="#3a3a3a" stroke="#3a3a3a" stroke-width="0.12" textLength="15.15" lengthAdjust="spacingAndGlyphs">300</text>
<line x1="485.99" y1="354.20" x2="485.99" y2="356.80" stroke="#1a1a1a" stroke-width="1.0"/>
<line x1="498.43" y1="354.20" x2="498.43" y2="356.80" stroke="#1a1a1a" stroke-width="1.0"/>
<text x="498.43" y="368.00" font-size="8.5" text-anchor="middle" fill="#3a3a3a" stroke="#3a3a3a" stroke-width="0.12" textLength="15.15" lengthAdjust="spacingAndGlyphs">350</text>
<line x1="510.88" y1="354.20" x2="510.88" y2="356.80" stroke="#1a1a1a" stroke-width="1.0"/>
<line x1="316.40" y1="353.80" x2="319.40" y2="353.80" stroke="#1a1a1a" stroke-width="1.0"/>
<text x="313.70" y="356.55" font-size="8.5" text-anchor="end" fill="#3a3a3a" stroke="#3a3a3a" stroke-width="0.12" textLength="5.05" lengthAdjust="spacingAndGlyphs">0</text>
<line x1="316.40" y1="321.69" x2="319.40" y2="321.69" stroke="#1a1a1a" stroke-width="1.0"/>
<text x="313.70" y="324.44" font-size="8.5" text-anchor="end" fill="#3a3a3a" stroke="#3a3a3a" stroke-width="0.12" textLength="10.10" lengthAdjust="spacingAndGlyphs">20</text>
<line x1="316.40" y1="289.58" x2="319.40" y2="289.58" stroke="#1a1a1a" stroke-width="1.0"/>
<text x="313.70" y="292.33" font-size="8.5" text-anchor="end" fill="#3a3a3a" stroke="#3a3a3a" stroke-width="0.12" textLength="10.10" lengthAdjust="spacingAndGlyphs">40</text>
<line x1="316.40" y1="257.47" x2="319.40" y2="257.47" stroke="#1a1a1a" stroke-width="1.0"/>
<text x="313.70" y="260.22" font-size="8.5" text-anchor="end" fill="#3a3a3a" stroke="#3a3a3a" stroke-width="0.12" textLength="10.10" lengthAdjust="spacingAndGlyphs">60</text>
<line x1="316.40" y1="225.36" x2="319.40" y2="225.36" stroke="#1a1a1a" stroke-width="1.0"/>
<text x="313.70" y="228.11" font-size="8.5" text-anchor="end" fill="#3a3a3a" stroke="#3a3a3a" stroke-width="0.12" textLength="10.10" lengthAdjust="spacingAndGlyphs">80</text>
<text transform="translate(298.20,288.40) rotate(-90)" x="0" y="0" font-size="10.0" text-anchor="middle" fill="#262626" stroke="#262626" stroke-width="0.22" textLength="71.2" lengthAdjust="spacingAndGlyphs">Monocytes (% of WBC)</text>
<text x="416.30" y="382.00" font-size="10.0" text-anchor="middle" fill="#262626" stroke="#262626" stroke-width="0.22" textLength="61.3" lengthAdjust="spacingAndGlyphs">Days post-transplant</text>
<polyline points="320.90,246.60 323.40,322.60 326.60,284.00 331.70,335.30 338.00,297.40" fill="none" stroke="#46515c" stroke-width="1.2" stroke-linejoin="round"/>
<polyline points="320.90,339.20 326.60,345.90 330.80,306.60 331.00,323.00 337.70,339.00 354.10,344.20 373.90,322.40" fill="none" stroke="#d2226e" stroke-width="1.2" stroke-linejoin="round"/>
<polyline points="320.80,306.80 323.60,352.40 326.60,338.00 331.00,324.70 338.00,328.60 353.70,328.60 373.90,335.00 413.50,326.20 458.40,301.50 505.60,308.80" fill="none" stroke="#a61436" stroke-width="1.2" stroke-linejoin="round"/>
<line x1="320.80" y1="284.50" x2="320.80" y2="325.50" stroke="#a61436" stroke-width="1.1"/>
<line x1="317.80" y1="284.50" x2="323.80" y2="284.50" stroke="#a61436" stroke-width="1.1"/>
<line x1="317.80" y1="325.50" x2="323.80" y2="325.50" stroke="#a61436" stroke-width="1.1"/>
<line x1="326.60" y1="334.40" x2="326.60" y2="341.50" stroke="#a61436" stroke-width="1.1"/>
<line x1="323.60" y1="334.40" x2="329.60" y2="334.40" stroke="#a61436" stroke-width="1.1"/>
<line x1="323.60" y1="341.50" x2="329.60" y2="341.50" stroke="#a61436" stroke-width="1.1"/>
<line x1="331.00" y1="319.70" x2="331.00" y2="329.50" stroke="#a61436" stroke-width="1.1"/>
<line x1="328.00" y1="319.70" x2="334.00" y2="319.70" stroke="#a61436" stroke-width="1.1"/>
<line x1="328.00" y1="329.50" x2="334.00" y2="329.50" stroke="#a61436" stroke-width="1.1"/>
<line x1="338.00" y1="323.50" x2="338.00" y2="333.80" stroke="#a61436" stroke-width="1.1"/>
<line x1="335.00" y1="323.50" x2="341.00" y2="323.50" stroke="#a61436" stroke-width="1.1"/>
<line x1="335.00" y1="333.80" x2="341.00" y2="333.80" stroke="#a61436" stroke-width="1.1"/>
<line x1="353.70" y1="324.00" x2="353.70" y2="333.60" stroke="#a61436" stroke-width="1.1"/>
<line x1="350.70" y1="324.00" x2="356.70" y2="324.00" stroke="#a61436" stroke-width="1.1"/>
<line x1="350.70" y1="333.60" x2="356.70" y2="333.60" stroke="#a61436" stroke-width="1.1"/>
<line x1="373.90" y1="331.20" x2="373.90" y2="338.80" stroke="#a61436" stroke-width="1.1"/>
<line x1="370.90" y1="331.20" x2="376.90" y2="331.20" stroke="#a61436" stroke-width="1.1"/>
<line x1="370.90" y1="338.80" x2="376.90" y2="338.80" stroke="#a61436" stroke-width="1.1"/>
<line x1="413.50" y1="320.30" x2="413.50" y2="332.30" stroke="#a61436" stroke-width="1.1"/>
<line x1="410.50" y1="320.30" x2="416.50" y2="320.30" stroke="#a61436" stroke-width="1.1"/>
<line x1="410.50" y1="332.30" x2="416.50" y2="332.30" stroke="#a61436" stroke-width="1.1"/>
<line x1="458.40" y1="293.20" x2="458.40" y2="309.80" stroke="#a61436" stroke-width="1.1"/>
<line x1="455.40" y1="293.20" x2="461.40" y2="293.20" stroke="#a61436" stroke-width="1.1"/>
<line x1="455.40" y1="309.80" x2="461.40" y2="309.80" stroke="#a61436" stroke-width="1.1"/>
<line x1="505.60" y1="302.30" x2="505.60" y2="314.70" stroke="#a61436" stroke-width="1.1"/>
<line x1="502.60" y1="302.30" x2="508.60" y2="302.30" stroke="#a61436" stroke-width="1.1"/>
<line x1="502.60" y1="314.70" x2="508.60" y2="314.70" stroke="#a61436" stroke-width="1.1"/>
<circle cx="320.90" cy="339.20" r="2.45" fill="none" stroke="#b0226a" stroke-width="1.35"/>
<circle cx="326.60" cy="345.90" r="2.45" fill="none" stroke="#b0226a" stroke-width="1.35"/>
<circle cx="330.80" cy="306.60" r="2.45" fill="none" stroke="#b0226a" stroke-width="1.35"/>
<circle cx="337.70" cy="339.00" r="2.45" fill="none" stroke="#b0226a" stroke-width="1.35"/>
<circle cx="354.10" cy="344.20" r="2.45" fill="none" stroke="#b0226a" stroke-width="1.35"/>
<circle cx="373.90" cy="322.40" r="2.45" fill="none" stroke="#b0226a" stroke-width="1.35"/>
<polygon points="320.90,244.00 318.55,248.68 323.25,248.68" fill="none" stroke="#46515c" stroke-width="1.05" stroke-linejoin="round"/>
<polygon points="323.40,320.00 321.05,324.68 325.75,324.68" fill="none" stroke="#46515c" stroke-width="1.05" stroke-linejoin="round"/>
<polygon points="326.60,281.40 324.25,286.08 328.95,286.08" fill="none" stroke="#46515c" stroke-width="1.05" stroke-linejoin="round"/>
<polygon points="331.70,332.70 329.35,337.38 334.05,337.38" fill="none" stroke="#46515c" stroke-width="1.05" stroke-linejoin="round"/>
<polygon points="338.00,294.80 335.65,299.48 340.35,299.48" fill="none" stroke="#46515c" stroke-width="1.05" stroke-linejoin="round"/>
<circle cx="320.80" cy="306.80" r="2.65" fill="#cf0736" stroke="#b00c38" stroke-width="0.6"/>
<circle cx="323.60" cy="352.40" r="2.65" fill="#cf0736" stroke="#b00c38" stroke-width="0.6"/>
<circle cx="326.60" cy="338.00" r="2.65" fill="#cf0736" stroke="#b00c38" stroke-width="0.6"/>
<circle cx="331.00" cy="324.70" r="2.65" fill="#cf0736" stroke="#b00c38" stroke-width="0.6"/>
<circle cx="338.00" cy="328.60" r="2.65" fill="#cf0736" stroke="#b00c38" stroke-width="0.6"/>
<circle cx="353.70" cy="328.60" r="2.65" fill="#cf0736" stroke="#b00c38" stroke-width="0.6"/>
<circle cx="373.90" cy="335.00" r="2.65" fill="#cf0736" stroke="#b00c38" stroke-width="0.6"/>
<circle cx="413.50" cy="326.20" r="2.65" fill="#cf0736" stroke="#b00c38" stroke-width="0.6"/>
<circle cx="458.40" cy="301.50" r="2.65" fill="#cf0736" stroke="#b00c38" stroke-width="0.6"/>
<circle cx="505.60" cy="308.80" r="2.65" fill="#cf0736" stroke="#b00c38" stroke-width="0.6"/>
<rect x="0" y="0" width="520" height="1" fill="#555"/>
<rect x="0" y="0" width="1" height="391" fill="#444"/>
<rect x="518" y="0" width="1" height="391" fill="#ddd"/>
<rect x="519" y="0" width="1" height="391" fill="#333"/>
<rect x="0" y="390" width="520" height="1" fill="#333"/>
</svg>
</div>
</body></html>
